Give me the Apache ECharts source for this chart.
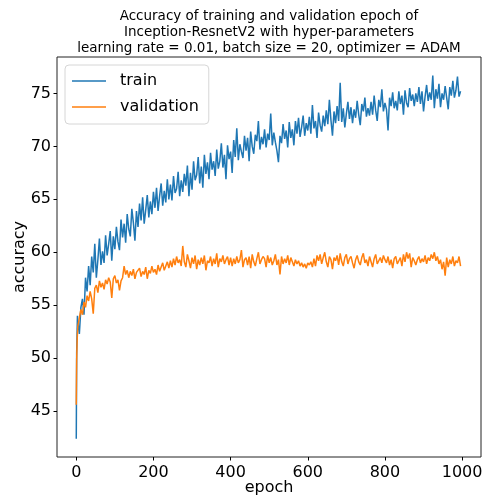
<!DOCTYPE html>
<html>
<head>
<meta charset="utf-8">
<script src="https://cdn.jsdelivr.net/npm/echarts@6/dist/echarts.min.js"></script>
<style>
  html, body { margin: 0; padding: 0; background: #fff; }
  #chart { width: 483px; height: 499px; }
</style>
</head>
<body>
<div id="chart"></div>
<script>
// first epochs, read one by one
var headEpochs = [0, 1, 2, 3];
var trainHead = [42.4, 50.5, 52.2, 54.0];
var valHead = [45.6, 49.8, 51.4, 52.3];

// after that one value every 4 epochs (4, 8, ... 996)
var step = 4;
var trainVals = [
  53.4, 52.3, 54.8, 55.6, 54.1, 57.6, 56.3, 58.7, 56.9, 59.6,
  58.1, 60.8, 57.6, 59.3, 61.3, 58.8, 60.1, 59.0, 61.6, 59.7,
  60.8, 62.0, 59.2, 61.5, 60.3, 62.4, 61.0, 60.2, 63.1, 61.4,
  62.7, 60.9, 63.6, 62.2, 61.5, 64.1, 62.8, 61.1, 63.9, 62.4,
  64.6, 63.0, 65.2, 62.7, 64.0, 65.4, 63.3, 64.8, 63.6, 65.7,
  64.2, 66.1, 63.9, 65.3, 66.5, 64.4, 65.8, 64.7, 66.9, 65.0,
  66.4, 64.9, 67.2, 65.6, 66.0, 67.6, 65.3, 66.8, 65.7, 67.4,
  66.3, 68.2, 65.3, 67.5, 65.9, 68.6, 66.8, 67.3, 69.0, 66.5,
  68.1, 66.1, 69.2, 67.4, 68.5, 66.9, 69.4, 67.8, 68.6, 67.2,
  69.7, 67.9, 68.6, 70.3, 68.0, 69.2, 66.9, 70.1, 68.8, 69.5,
  67.5, 70.6, 69.0, 71.7, 68.7, 70.2, 69.5, 68.9, 71.0, 69.6,
  70.8, 68.6, 71.4, 70.0, 69.3, 71.1, 70.5, 72.4, 69.7, 70.9,
  70.2, 71.6, 69.9, 71.2, 70.6, 73.1, 70.1, 71.3, 70.4, 69.6,
  68.5, 71.0, 70.3, 72.1, 70.7, 71.5, 69.9, 72.3, 70.8, 71.6,
  70.1, 72.4, 71.2, 72.7, 70.9, 71.8, 72.9, 71.0, 72.2, 71.5,
  72.8, 71.2, 73.9, 71.7, 72.4, 70.8, 73.2, 72.0, 71.4, 72.9,
  71.9, 73.4, 72.1, 74.4, 72.5, 71.0, 73.3, 72.2, 73.8, 72.4,
  76.0, 72.3, 73.6, 71.8, 73.1, 74.2, 72.6, 73.7, 72.2, 73.5,
  72.7, 74.3, 73.0, 72.0, 74.0, 73.3, 74.6, 72.8, 73.6, 72.9,
  74.2, 73.0, 74.8, 73.4, 72.4, 74.4, 73.7, 75.4, 73.3, 74.1,
  73.5, 71.5, 74.6, 73.8, 75.1, 73.6, 74.3, 73.4, 75.2, 74.0,
  74.8, 73.0, 75.3, 74.1, 73.7, 75.5, 74.3, 74.9, 73.8, 75.0,
  74.2, 75.6, 74.0, 75.2, 73.3, 74.7, 75.8, 74.3, 75.1, 74.4,
  76.7, 73.6, 75.4, 74.5, 75.9, 73.7, 75.0, 74.4, 75.7, 74.6,
  73.5, 75.6, 74.8, 76.2, 74.6, 75.3, 76.6, 74.7, 75.2
];
var valVals = [
  53.0, 53.8, 54.6, 54.1, 55.3, 54.8, 55.9, 55.4, 56.3, 55.6,
  54.2, 56.6, 56.9, 56.2, 57.3, 56.7, 57.1, 56.5, 57.4, 57.0,
  57.6, 57.2, 55.7, 57.5, 57.8, 57.1, 57.4, 56.4, 57.3, 57.6,
  58.7, 57.9, 58.3, 57.6, 58.2, 57.8, 58.4, 57.5, 58.1, 58.0,
  58.5, 57.7, 58.2, 57.9, 58.6, 57.5, 58.3, 58.0, 58.7, 58.1,
  58.4, 57.9, 58.8, 58.2, 58.6, 59.0, 58.3, 58.7, 59.1, 58.5,
  59.2, 58.6, 59.4, 58.8, 59.6, 59.0, 59.3, 58.7, 60.6, 59.1,
  58.6, 59.8, 59.2, 58.5, 59.5, 58.9, 59.7, 58.4, 59.3, 58.8,
  59.5, 58.9, 59.7, 58.3, 59.2, 59.0, 59.6, 58.7, 59.4, 58.9,
  59.9, 58.6, 59.4, 59.1, 59.7, 58.9, 59.3, 59.6, 58.8, 59.5,
  58.7, 59.4, 58.9, 59.6, 59.0, 59.3, 60.2, 58.6, 59.3, 59.5,
  58.8, 59.6, 58.5, 59.8, 59.1, 58.7, 59.4, 60.0, 58.9, 59.3,
  59.6, 59.4, 58.6, 59.7, 59.0, 59.5, 58.8, 59.2, 59.8, 58.8,
  59.3, 57.9, 59.6, 58.9, 59.4, 59.0, 59.7, 58.8, 59.5, 59.1,
  58.7, 59.3, 58.9, 59.2, 58.7, 59.0, 58.6, 58.9, 58.5, 59.0,
  58.8, 59.1, 58.6, 59.4, 58.7, 59.7, 59.2, 59.8, 58.9, 59.5,
  60.0, 59.1, 58.6, 59.6, 59.3, 58.4, 59.5, 59.2, 59.7, 58.8,
  59.9, 59.1, 58.7, 59.5, 59.8, 58.9, 59.4, 59.6, 59.0, 58.5,
  59.3, 59.7, 59.1, 58.8, 59.5, 59.9, 59.0, 59.3, 58.7, 59.6,
  59.1, 58.6, 59.4, 59.8, 58.9, 59.2, 59.5, 59.0, 59.7, 59.3,
  59.0, 59.6, 58.8, 59.3, 58.5, 59.4, 59.6, 58.9, 59.2, 59.5,
  58.7, 59.8, 59.1, 60.0, 59.4, 59.9, 58.6, 59.5, 59.2, 58.8,
  59.3, 59.6, 59.0, 59.4, 59.1, 59.7, 58.9, 59.5, 59.2, 59.8,
  59.4, 60.0, 59.2, 59.6, 58.9, 59.3, 58.4, 59.1, 57.8, 59.5,
  58.6, 59.3, 58.9, 59.6, 58.7, 59.2, 59.0, 59.6, 58.7
];

var xTicks = [0, 200, 400, 600, 800, 1000];
var yTicks = [45, 50, 55, 60, 65, 70, 75];

function pairs(head, vals) {
  var out = [];
  for (var i = 0; i < head.length; i++) out.push([headEpochs[i], head[i]]);
  for (var j = 0; j < vals.length; j++) out.push([(j + 1) * step, vals[j]]);
  return out;
}

var chart = echarts.init(document.getElementById('chart'), null, { renderer: 'canvas' });
var font = 'DejaVu Sans';

var option = {
  animation: false,
  backgroundColor: '#fff',
  title: {
    text: 'Accuracy of training and validation epoch of\nInception-ResnetV2 with hyper-parameters\nlearning rate = 0.01, batch size = 20, optimizer = ADAM',
    left: 269,
    top: 8,
    textAlign: 'center',
    padding: 0,
    textStyle: {
      fontFamily: font,
      fontSize: 13.5,
      fontWeight: 'normal',
      color: '#000',
      lineHeight: 16
    }
  },
  legend: {
    orient: 'vertical',
    left: 65,
    top: 65,
    padding: [8, 10, 9, 7],
    itemGap: 10,
    itemWidth: 34,
    itemHeight: 1.5,
    icon: 'rect',
    backgroundColor: 'rgba(255,255,255,0.8)',
    borderColor: '#d6d6d6',
    borderWidth: 1,
    borderRadius: 4,
    textStyle: {
      fontFamily: font,
      fontSize: 16,
      color: '#000',
      padding: [0, 0, 0, 9]
    },
    data: ['train', 'validation']
  },
  grid: {
    left: 57,
    top: 57,
    width: 424,
    height: 400,
    outerBoundsMode: 'none',
    containLabel: false,
    show: true,
    borderColor: '#222',
    borderWidth: 1
  },
  xAxis: {
    type: 'value',
    min: -49.95,
    max: 1048.95,
    name: 'epoch',
    nameLocation: 'middle',
    nameGap: 23,
    nameMoveOverlap: false,
    nameTextStyle: { fontFamily: font, fontSize: 16, color: '#000' },
    axisLine: { show: false, onZero: false },
    splitLine: { show: false },
    axisTick: {
      show: true,
      customValues: xTicks,
      length: 3.5,
      lineStyle: { color: '#000', width: 1 }
    },
    axisLabel: {
      customValues: xTicks,
      margin: 8,
      fontFamily: font,
      fontSize: 16,
      color: '#000',
      formatter: function (v) { return String(v); }
    }
  },
  yAxis: {
    type: 'value',
    min: 40.67,
    max: 78.44,
    name: 'accuracy',
    nameLocation: 'middle',
    nameRotate: 90,
    nameGap: 29,
    nameMoveOverlap: false,
    nameTextStyle: { fontFamily: font, fontSize: 16, color: '#000' },
    axisLine: { show: false, onZero: false },
    splitLine: { show: false },
    axisTick: {
      show: true,
      customValues: yTicks,
      length: 3.5,
      lineStyle: { color: '#000', width: 1 }
    },
    axisLabel: {
      customValues: yTicks,
      margin: 6,
      fontFamily: font,
      fontSize: 16,
      color: '#000',
      formatter: function (v) { return String(v); }
    }
  },
  series: [
    {
      name: 'train',
      type: 'line',
      data: pairs(trainHead, trainVals),
      showSymbol: false,
      color: '#1f77b4',
      lineStyle: { width: 1.5, color: '#1f77b4' }
    },
    {
      name: 'validation',
      type: 'line',
      data: pairs(valHead, valVals),
      showSymbol: false,
      color: '#ff7f0e',
      lineStyle: { width: 1.5, color: '#ff7f0e' }
    }
  ]
};

chart.setOption(option);
</script>
</body>
</html>
